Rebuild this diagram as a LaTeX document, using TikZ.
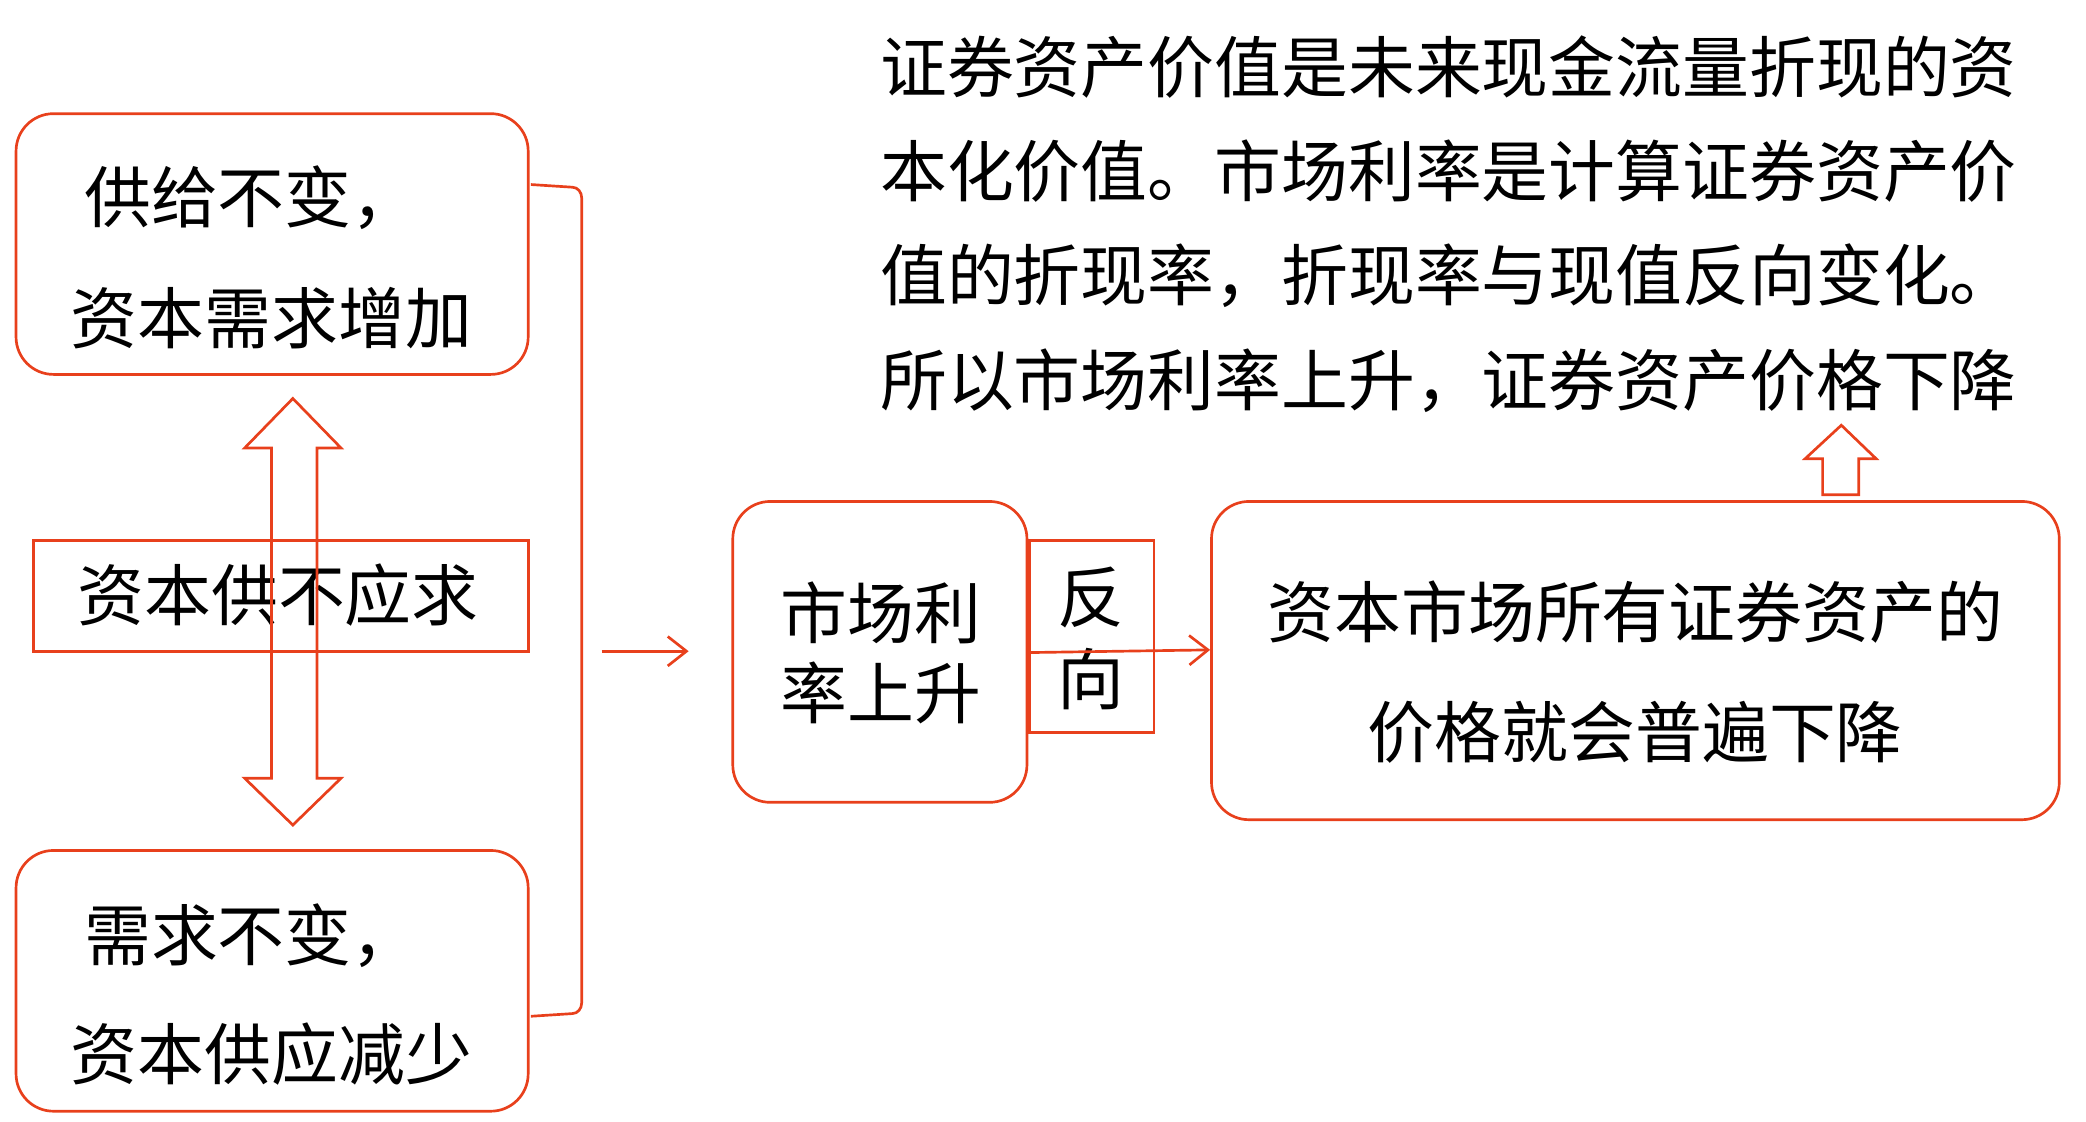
\documentclass[tikz,border=0pt]{standalone}
\usepackage{fontspec}
\setmainfont{Noto Sans CJK SC}
\usetikzlibrary{arrows.meta}
\definecolor{rd}{HTML}{E8401C}
\begin{document}
\begin{tikzpicture}[x=1pt,y=-1pt,
  rb/.style={draw=rd,line width=2pt,rounded corners=28pt},
  sq/.style={draw=rd,line width=2pt},
  tx/.style={font=\fontsize{50}{56}\selectfont,inner sep=0pt,anchor=center},
  con/.style={draw=rd,line width=2pt},
  arr/.style={con,-{Straight Barb[length=14pt,width=22pt,line width=2pt]}}]
\useasboundingbox (0,0) rectangle (1560,839);
% boxes
\draw[rb] (12,85) rectangle (395,280);
\node[tx] (b1a) at (188,148) {供给不变，};
\node[tx] (b1b) at (203,238) {资本需求增加};
\draw[sq] (25,404) rectangle (395,487);
\node[tx] (mid) at (208,445) {资本供不应求};
\draw[rb] (12,636) rectangle (395,831);
\node[tx] (b2a) at (188,700) {需求不变，};
\node[tx] (b2b) at (203,788) {资本供应减少};
% double arrow
\draw[con,line join=miter] (219,298) -- (255,335) -- (237,335) -- (237,582) -- (255,582) -- (219,617) -- (183,582) -- (203,582) -- (203,335) -- (183,335) -- cycle;
% bracket
\coordinate (br1) at (397,138);
\coordinate (br2) at (397,760);
\draw[con] (br1) -- (428,140) to[out=0,in=90] (435,148) -- (435,750) to[out=-90,in=0] (428,758) -- (br2);
\coordinate (a1s) at (450,487);
\coordinate (a1e) at (515,487);
\draw[arr] (a1s) -- (a1e);
% box3
\draw[rb] (548,375) rectangle (768,600);
\node[tx] (m1) at (659,458) {市场利};
\node[tx] (m2) at (659,518) {率上升};
\draw[sq] (770,404) rectangle (863,548);
\node[tx] (f1) at (816,447) {反};
\node[tx] (f2) at (816,508) {向};
\coordinate (a2s) at (770,488);
\coordinate (a2e) at (905,486);
\draw[arr] (a2s) -- (a2e);
% box4
\draw[rb] (906,375) rectangle (1540,613);
\node[tx] (r1) at (1223,458) {资本市场所有证券资产的};
\node[tx] (r2) at (1223,548) {价格就会普遍下降};
% up arrow
\draw[con,line join=miter] (1377,318) -- (1403,343) -- (1390,343) -- (1390,370) -- (1363,370) -- (1363,343) -- (1350,343) -- cycle;
% top text
\node[tx,anchor=west] (t1) at (658,50) {证券资产价值是未来现金流量折现的资};
\node[tx,anchor=west] (t2) at (658,128) {本化价值。市场利率是计算证券资产价};
\node[tx,anchor=west] (t3) at (658,206) {值的折现率，折现率与现值反向变化。};
\node[tx,anchor=west] (t4) at (658,285) {所以市场利率上升，证券资产价格下降};
\end{tikzpicture}
\end{document}
